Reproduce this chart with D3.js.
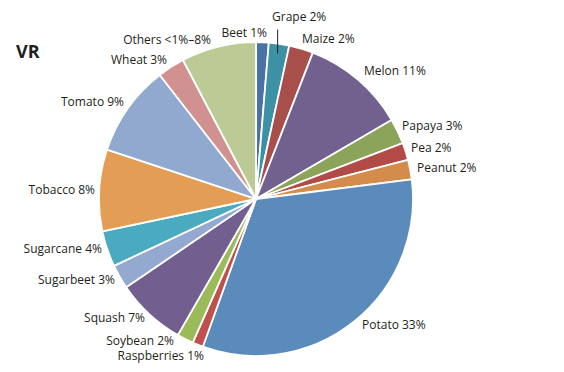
<!DOCTYPE html>
<html>
<head>
<meta charset="utf-8">
<script src="https://cdn.jsdelivr.net/npm/d3@7"></script>
<style>
  html, body { margin: 0; padding: 0; background: #fff; }
  svg { display: block; }
  text { font-family: "Open Sans", "Noto Sans", sans-serif; fill: #231f20; }
</style>
</head>
<body>
<svg id="chart" width="564" height="372"></svg>
<script>
// Data (shares, clockwise from 12 o'clock)
const categories = ["Beet", "Grape", "Maize", "Melon", "Papaya", "Pea", "Peanut", "Potato",
  "Raspberries", "Soybean", "Squash", "Sugarbeet", "Sugarcane", "Tobacco", "Tomato", "Wheat", "Others"];
const shares = [1.3, 2.1, 2.5, 10.7, 2.6, 1.8, 2.0, 32.5, 1.1, 1.7, 7.2, 2.5, 3.7, 8.4, 9.4, 2.8, 7.7];
const labelPercents = ["1%", "2%", "2%", "11%", "3%", "2%", "2%", "33%", "1%", "2%", "7%", "3%", "4%", "8%", "9%", "3%", "<1%–8%"];
const title = "VR";

// Styles
const colors = ["#4a72a4", "#3d91a4", "#a84f4c", "#72618f", "#8ca35a", "#b24b48", "#d38c4b", "#5b8bbb",
  "#c0504d", "#9bbb59", "#725f90", "#93a9cf", "#4aaabf", "#e49d55", "#91a9ce", "#d19190", "#bccb95"];
// Label layout: [x, baseline y, anchor]
const labelLayout = [
  [267, 37, "end"], [272, 21, "start"], [302, 43, "start"], [364, 75, "start"],
  [402, 130, "start"], [411, 152, "start"], [417, 172, "start"], [362, 329, "start"],
  [204, 360, "end"], [174, 345, "end"], [145, 322, "end"], [115, 284, "end"],
  [102, 253, "end"], [95, 194, "end"], [124, 106, "end"], [167, 64, "end"], [211, 44, "end"]
];

const svg = d3.select("#chart");
const cx = 256, cy = 199, R = 157;

const data = categories.map((c, i) => ({ name: c, value: shares[i], pct: labelPercents[i], i }));

const pie = d3.pie().value(d => d.value).sort(null).startAngle(0).endAngle(2 * Math.PI);
const arc = d3.arc().innerRadius(0).outerRadius(R);
const color = d3.scaleOrdinal().domain(categories).range(colors);

const g = svg.append("g").attr("transform", `translate(${cx},${cy})`);
const arcs = pie(data);

g.selectAll("path.slice").data(arcs).join("path")
  .attr("class", "slice")
  .attr("d", arc)
  .attr("fill", d => color(d.data.name))
  .attr("stroke", "#fff")
  .attr("stroke-width", 1.8)
  .attr("stroke-linejoin", "round");

// Leader line for Grape
const grapeArc = arcs[categories.indexOf("Grape")];
const mid = (grapeArc.startAngle + grapeArc.endAngle) / 2;
const px = Math.sin(mid) * (R - 10), py = -Math.cos(mid) * (R - 10);
g.append("line")
  .attr("x1", px).attr("y1", py)
  .attr("x2", px).attr("y2", py - 24)
  .attr("stroke", "#231f20").attr("stroke-width", 1);

// Labels
svg.selectAll("text.lab").data(data).join("text")
  .attr("class", "lab")
  .attr("x", d => labelLayout[d.i][0])
  .attr("y", d => labelLayout[d.i][1])
  .attr("text-anchor", d => labelLayout[d.i][2])
  .attr("font-size", 12)
  .text(d => `${d.name} ${d.pct}`);

svg.append("text")
  .attr("x", 16).attr("y", 58)
  .attr("font-size", 18).attr("font-weight", "bold")
  .text(title);
</script>
</body>
</html>
